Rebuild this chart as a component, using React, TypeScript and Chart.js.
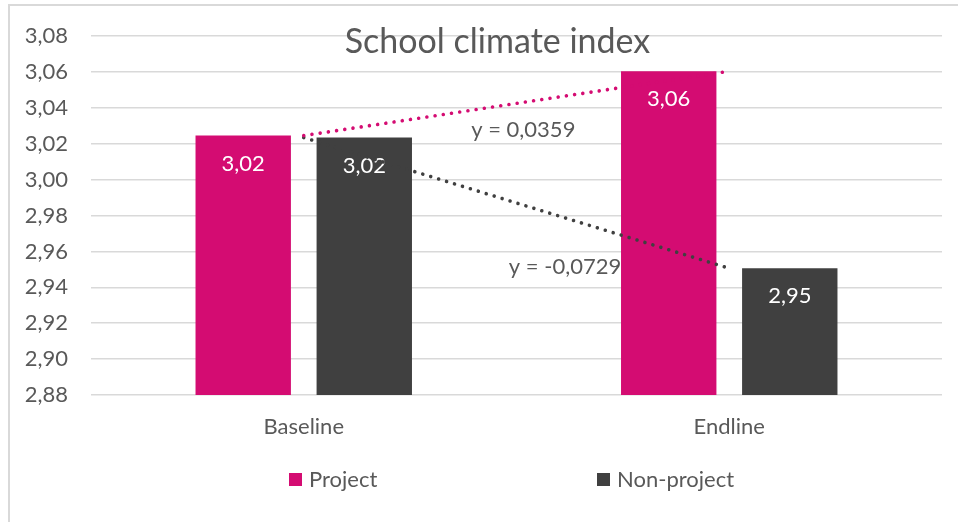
import React, { useEffect, useRef } from 'react';
import { Chart, registerables } from 'chart.js';

Chart.register(...registerables);

// ---- data ----
const categories = ['Baseline', 'Endline'];
const seriesNames = ['Project', 'Non-project'];
const projectValues = [3.0246, 3.0605];
const nonProjectValues = [3.0235, 2.9506];
const yMin = 2.88;
const yMax = 3.08;
const yStep = 0.02;
const titleText = 'School climate index';

// ---- style ----
const FONT = 'Lato';
const TEXT = '#595959';
const GRID = '#d9d9d9';
const MAGENTA = '#d40c72';
const DARK = '#404040';
const seriesColors = [MAGENTA, DARK];

// layout constants (not data)
const trendLabelPlace = [
  { t: 0.516, dy: 28 },
  { t: 0.614, dy: 49 },
];
const legendBoxX = [289, 597];

const fmt = (v: number, d: number) => v.toFixed(d).replace('.', ',');

const barLabelPlugin = {
  id: 'barLabels',
  afterDatasetDraw(chart: any, args: any) {
    const ds = chart.data.datasets[args.index];
    if (ds.type === 'line') return;
    const ctx = chart.ctx;
    ctx.save();
    ctx.fillStyle = '#ffffff';
    ctx.font = `22px ${FONT}`;
    ctx.textAlign = 'center';
    ctx.textBaseline = 'middle';
    args.meta.data.forEach((el: any, i: number) => {
      ctx.fillText(fmt(ds.data[i], 2), el.x, el.y + 28);
    });
    ctx.restore();
  },
};

const trendLabelPlugin = {
  id: 'trendLabels',
  afterDatasetsDraw(chart: any) {
    const ctx = chart.ctx;
    ctx.save();
    ctx.fillStyle = TEXT;
    ctx.font = `22px ${FONT}`;
    ctx.textAlign = 'center';
    ctx.textBaseline = 'middle';
    let k = 0;
    chart.data.datasets.forEach((ds: any, di: number) => {
      if (ds.type !== 'line') return;
      const meta = chart.getDatasetMeta(di);
      const p0 = meta.data[0];
      const p1 = meta.data[1];
      const slope = ds.data[1] - ds.data[0];
      const place = trendLabelPlace[k++];
      const x = p0.x + (p1.x - p0.x) * place.t;
      const y = p0.y + (p1.y - p0.y) * place.t + place.dy;
      ctx.fillText(`y = ${fmt(slope, 4)}`, x, y);
    });
    ctx.restore();
  },
};

const decorPlugin = {
  id: 'decor',
  afterDraw(chart: any) {
    const ctx = chart.ctx;
    const area = chart.chartArea;
    ctx.save();
    // title
    ctx.fillStyle = TEXT;
    ctx.font = `34px ${FONT}`;
    ctx.textAlign = 'center';
    ctx.textBaseline = 'alphabetic';
    ctx.fillText(titleText, 497.5, 53);
    // legend
    const ly = area.bottom + 85;
    ctx.font = `22px ${FONT}`;
    ctx.textAlign = 'left';
    ctx.textBaseline = 'middle';
    let k = 0;
    chart.data.datasets.forEach((ds: any) => {
      if (ds.type === 'line') return;
      const bx = legendBoxX[k++];
      ctx.fillStyle = ds.backgroundColor;
      ctx.fillRect(bx, ly - 7, 13, 13);
      ctx.fillStyle = TEXT;
      ctx.fillText(ds.label, bx + 20, ly);
    });
    ctx.restore();
  },
};

export default function App() {
  const ref = useRef<HTMLCanvasElement>(null);

  useEffect(() => {
    const canvas = ref.current;
    if (!canvas) return;
    const chart = new Chart(canvas, {
      type: 'bar',
      data: {
        labels: categories,
        datasets: [
          {
            label: seriesNames[0] + ' trend',
            type: 'line',
            data: projectValues,
            borderColor: MAGENTA,
            borderWidth: 3.6,
            borderDash: [0.001, 8.3],
            borderCapStyle: 'round',
            pointRadius: 0,
            fill: false,
            order: 0,
          } as any,
          {
            label: seriesNames[1] + ' trend',
            type: 'line',
            data: nonProjectValues,
            borderColor: DARK,
            borderWidth: 3.6,
            borderDash: [0.001, 8.3],
            borderCapStyle: 'round',
            pointRadius: 0,
            fill: false,
            order: 0,
          } as any,
          {
            label: seriesNames[0],
            data: projectValues,
            backgroundColor: seriesColors[0],
            categoryPercentage: 0.569,
            barPercentage: 0.788,
            order: 1,
          },
          {
            label: seriesNames[1],
            data: nonProjectValues,
            backgroundColor: seriesColors[1],
            categoryPercentage: 0.569,
            barPercentage: 0.788,
            order: 1,
          },
        ],
      },
      options: {
        responsive: false,
        animation: false,
        layout: { padding: { left: 0, right: 16, top: 34, bottom: 0 } },
        plugins: {
          legend: { display: false },
          title: { display: false },
          tooltip: { enabled: false },
        },
        scales: {
          x: {
            grid: { display: false, drawTicks: false },
            border: { display: false },
            ticks: { color: TEXT, font: { family: FONT, size: 22 }, padding: 19 },
            afterFit: (s: any) => {
              s.height = 127;
            },
          },
          y: {
            min: yMin,
            max: yMax,
            grid: { color: GRID, lineWidth: 1.5, drawTicks: false },
            border: { display: false },
            ticks: {
              stepSize: yStep,
              color: TEXT,
              font: { family: FONT, size: 22 },
              padding: 23,
              callback: (v: any) => fmt(Number(v), 2),
            },
            afterFit: (s: any) => {
              s.width = 91;
            },
          },
        },
      },
      plugins: [barLabelPlugin, trendLabelPlugin, decorPlugin],
    });
    return () => chart.destroy();
  }, []);

  return (
    <div
      style={{
        position: 'fixed',
        left: 0,
        top: 0,
        width: 958,
        height: 522,
        overflow: 'hidden',
        background: '#ffffff',
      }}
    >
      <div
        style={{
          position: 'absolute',
          left: 8,
          top: 4,
          width: 1000,
          height: 600,
          border: `2px solid ${GRID}`,
          boxSizing: 'border-box',
        }}
      />
      <canvas
        ref={ref}
        width={958}
        height={522}
        style={{ position: 'absolute', left: 0, top: 0, width: 958, height: 522 }}
      />
    </div>
  );
}
